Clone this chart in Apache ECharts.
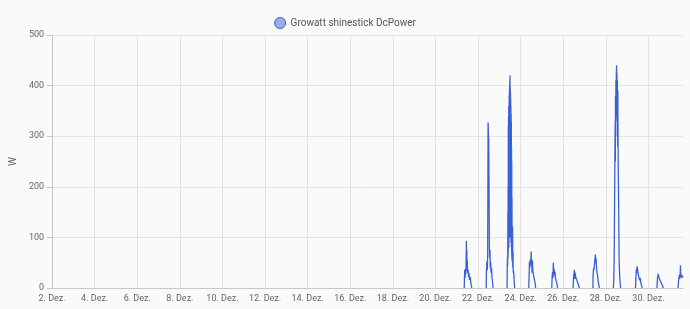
<!DOCTYPE html>
<html>
<head>
<meta charset="utf-8">
<script src="https://cdn.jsdelivr.net/npm/echarts@6/dist/echarts.min.js"></script>
<style>
html,body{margin:0;padding:0;background:#fafafa;}
#chart{width:690px;height:309px;}
</style>
</head>
<body>
<div id="chart"></div>
<script>
const seriesName = 'Growatt shinestick DcPower';
const xTickValues = [2,4,6,8,10,12,14,16,18,20,22,24,26,28,30];
const monthLabel = 'Dez.';

const day21 = [[21.35,0],[21.37,36],[21.39,20],[21.41,38],[21.43,28],[21.45,93],[21.46,55],[21.47,75],[21.48,35],[21.49,55],[21.51,30],[21.53,36],[21.55,22],[21.57,30],[21.60,16],[21.63,22],[21.66,10],[21.69,4],[21.70,0]];
const day22 = [[22.38,0],[22.39,28],[22.41,52],[22.43,35],[22.45,65],[22.47,327],[22.49,300],[22.50,292],[22.53,82],[22.54,60],[22.56,75],[22.57,40],[22.59,52],[22.61,30],[22.63,40],[22.65,22],[22.67,15],[22.69,5],[22.70,0]];
const day23 = [[23.36,0],[23.37,40],[23.38,62],[23.39,45],[23.40,150],[23.405,60],[23.41,200],[23.415,70],[23.42,322],[23.425,90],[23.43,340],[23.435,110],[23.44,360],[23.445,80],[23.45,350],[23.455,120],[23.46,380],[23.465,100],[23.47,390],[23.475,150],[23.48,400],[23.485,120],[23.49,410],[23.495,200],[23.50,420],[23.505,130],[23.51,395],[23.515,160],[23.52,388],[23.525,100],[23.53,375],[23.535,140],[23.54,360],[23.545,90],[23.55,345],[23.555,120],[23.56,329],[23.565,80],[23.57,280],[23.575,70],[23.58,250],[23.585,60],[23.59,180],[23.595,55],[23.60,124],[23.61,50],[23.62,120],[23.63,40],[23.64,72],[23.65,30],[23.66,35],[23.68,26],[23.70,8],[23.72,0]];
const day24 = [[24.38,0],[24.40,30],[24.41,52],[24.43,40],[24.45,57],[24.47,45],[24.49,72],[24.50,55],[24.52,49],[24.53,30],[24.55,55],[24.57,35],[24.59,29],[24.62,22],[24.65,15],[24.68,10],[24.70,0]];
const day25 = [[25.46,0],[25.48,25],[25.50,32],[25.52,20],[25.53,50],[25.55,30],[25.57,38],[25.59,25],[25.61,32],[25.63,20],[25.66,15],[25.69,10],[25.72,5],[25.73,0]];
const day26 = [[26.46,0],[26.48,20],[26.50,28],[26.52,36],[26.54,18],[26.56,30],[26.58,22],[26.61,25],[26.64,15],[26.68,10],[26.72,5],[26.75,0]];
const day27 = [[27.39,0],[27.40,25],[27.42,39],[27.44,35],[27.46,45],[27.48,55],[27.51,66],[27.53,50],[27.54,58],[27.56,40],[27.58,32],[27.61,25],[27.64,12],[27.67,6],[27.69,0]];
const day28 = [[28.35,0],[28.37,15],[28.39,60],[28.41,180],[28.43,300],[28.44,329],[28.445,250],[28.45,380],[28.455,300],[28.46,360],[28.465,330],[28.47,410],[28.475,340],[28.48,395],[28.485,350],[28.49,430],[28.495,360],[28.50,440],[28.505,380],[28.51,400],[28.515,340],[28.52,425],[28.525,350],[28.53,380],[28.535,330],[28.54,410],[28.545,300],[28.55,329],[28.555,280],[28.56,390],[28.57,300],[28.58,240],[28.60,157],[28.62,59],[28.64,30],[28.66,15],[28.69,0]];
const day29 = [[29.39,0],[29.41,20],[29.43,38],[29.45,30],[29.47,43],[29.49,35],[29.51,30],[29.53,25],[29.56,28],[29.58,15],[29.61,20],[29.64,10],[29.67,6],[29.70,0]];
const day30 = [[30.40,0],[30.42,18],[30.44,24],[30.46,28],[30.48,22],[30.50,25],[30.52,18],[30.55,20],[30.58,12],[30.61,10],[30.64,6],[30.67,3],[30.70,0]];
const day31 = [[31.39,0],[31.41,15],[31.43,20],[31.45,26],[31.47,18],[31.49,30],[31.50,45],[31.51,28],[31.53,22],[31.55,26],[31.57,20],[31.59,24],[31.61,22]];

const days = [day21,day22,day23,day24,day25,day26,day27,day28,day29,day30,day31];
const data = [];
days.forEach((d, i) => {
  if (i > 0) data.push([d[0][0] - 0.2, null]);
  d.forEach(p => data.push(p));
});

const blue = '#3a60d5';
const chart = echarts.init(document.getElementById('chart'));
chart.setOption({
  backgroundColor: '#fafafa',
  animation: false,
  textStyle: { fontFamily: 'Roboto' },
  legend: {
    top: 12,
    left: 'center',
    icon: 'circle',
    itemWidth: 11,
    itemHeight: 11,
    itemGap: 10,
    textStyle: { color: '#555', fontSize: 10, fontFamily: 'Roboto' },
    itemStyle: { color: 'rgba(58,96,213,0.5)', borderColor: blue, borderWidth: 1 },
    data: [seriesName]
  },
  grid: { left: 42, right: 7, top: 35, bottom: 21, containLabel: false },
  xAxis: {
    type: 'value',
    min: 2,
    max: 31.62,
    axisLine: { show: true, lineStyle: { color: '#c8c8c8' } },
    axisTick: { show: false, customValues: xTickValues },
    axisLabel: {
      customValues: xTickValues,
      color: '#666', fontSize: 9, margin: 6,
      formatter: v => v + '. ' + monthLabel
    },
    splitLine: { show: true, lineStyle: { color: '#e4e4e4' } }
  },
  yAxis: {
    type: 'value',
    min: 0, max: 500, interval: 100,
    name: 'W',
    nameLocation: 'middle',
    nameGap: 31,
    nameTextStyle: { color: '#666', fontSize: 10 },
    axisLine: { show: true, lineStyle: { color: '#c8c8c8' } },
    axisTick: { show: true, length: 5, lineStyle: { color: '#c8c8c8' } },
    axisLabel: { color: '#666', fontSize: 9, margin: 8 },
    splitLine: { show: true, lineStyle: { color: '#e4e4e4' } }
  },
  series: [{
    name: seriesName,
    type: 'line',
    data: data,
    showSymbol: false,
    symbol: 'none',
    connectNulls: false,
    color: blue,
    lineStyle: { color: blue, width: 1.3 }
  }]
});
</script>
</body>
</html>
